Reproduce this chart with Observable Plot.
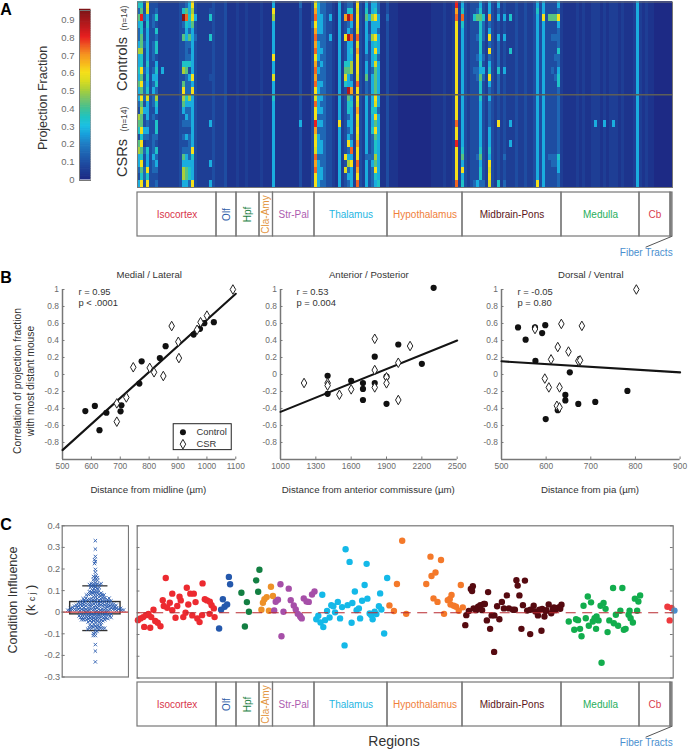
<!DOCTYPE html>
<html><head><meta charset="utf-8">
<script src="https://cdn.jsdelivr.net/npm/d3@7"></script>
<script src="https://cdn.jsdelivr.net/npm/@observablehq/plot@0.6"></script>
<style>
html,body{margin:0;padding:0;background:#fff;font-family:"Liberation Sans",Arial,sans-serif}
#page{position:relative;width:688px;height:750px;overflow:hidden}
.lab{position:absolute;white-space:nowrap;transform:translate(-50%,-50%);line-height:1.15;text-align:center}
</style></head><body><div id="page"></div>
<script>
/* ---------- shared ---------- */
const FONT = '"Liberation Sans",Arial,sans-serif';
const GREY = "#777";
const TICK = "#6b6b6b";

/* ---------- A: heat map ---------- */
const colorDomain = [0,.1,.2,.25,.3,.35,.4,.45,.5,.55,.6,.65,.7,.75,.8,.85,.955];
const colorRange = ["#1d2a85","#1e51a5","#1f7fc5","#18a0dc","#1cc0e2","#20c4c0","#45c090","#78c468","#a8cf3a","#d8dc20","#f5e01a","#f8b81c","#f59520","#ef5a22","#e8201f","#c41a1e","#7a1518"];
const levels = [0,.025,.05,.09,.15,.27,.34,.42,.5,.56,.6,.68,.74,.8,.875,.94];
const nRows = 28;
const baseColumns = "6832343222"+"2222333222"+"2222332222"+"1112112111"+"1211131111"+"1111311112"+"1243321223"+"2223322223"+"1112111000"+"0000000011"+"1121120203"+"2323332332"+"3232323223"+"2232323233"+"3211112121"+"1212121212"+"1211121212"+"11000000";
const hotColumns = {
  0:"64754458556575"+"54387637855435",
  1:"67d6677866a7a7"+"a7877a6a76a76a",
  2:"33423343334344"+"43533542433443",
  3:"a9565555565656"+"95554543655a6a",
  5:"33443344434545"+"44343344454433",
  6:"34636466356564"+"86536643645434",
  8:"22222222225222"+"22222222222222",
  15:"36f4373336837a"+"87534343475885",
  16:"47c65544467444"+"65454353455775",
  17:"55654743463544"+"85444344445664",
  18:"a8975555555a5a"+"55555555a6555a",
  19:"33533433333333"+"33333333333333",
  24:"23622622222322"+"22225222225225",
  29:"33333333333333"+"33333333333333",
  45:"5a855555a55955"+"65555555555555",
  54:"43333333333333"+"33335333333333",
  58:"33343333333333"+"33333333333333",
  59:"9bcabcbcabcbca"+"9caadb9a9cbcaa",
  60:"55555455545455"+"55545455545555",
  61:"44555445454454"+"54545445544554",
  64:"33533533333333"+"33333333333333",
  67:"55555555555555"+"5555a555555555",
  69:"33b33a33367963"+"333333333a3933",
  70:"46e45e5556755e"+"7664545a458454",
  71:"46c54c5658845b"+"56555545c5a555",
  73:"a9aa9c9baaa9ca"+"a9ba9a9baacbac",
  76:"56755555455744"+"55555555545555",
  77:"33533433333333"+"33333333343333",
  78:"55855855554555"+"55655644445444",
  79:"56a55a6a697777"+"a96a7a76687a65",
  80:"44554555455555"+"55455555555556",
  83:"33433333333333"+"33333333333333",
  106:"dbcaaaaaaaaaaa"+"aaaacaadaaaaac",
  108:"56c65555555555"+"55555555675a56",
  112:"33633333334333"+"33333333333334",
  113:"34733433434433"+"33333333343335",
  114:"56766666565766"+"65555555675664",
  115:"33644433435433"+"33333333333334",
  117:"55b45a4a456a54"+"5444455565a9a9",
  120:"54533544446444"+"3333a333333336",
  122:"33533533335333"+"33333333343334",
  124:"22622226222222"+"22225225222222",
  133:"56555555555555"+"5555555555555a",
  135:"55a55555555555"+"55555555555555",
  137:"33733333333333"+"33333333343333",
  138:"33733433334333"+"33333333344333",
  139:"33733433433433"+"33333333344333",
  140:"54a54446445664"+"44444444465544",
  152:"22222222222222"+"22225222222222",
  155:"22222222222222"+"22225222222222",
  158:"22222222222222"+"22225222222222",
  166:"55555555555555"+"55555555555555",
};
const heatCells = [];
for (let c = 0; c < baseColumns.length; c++) {
  const hot = hotColumns[c];
  for (let r = 0; r < nRows; r++) {
    const ch = hot ? (hot[r] || baseColumns[c]) : baseColumns[c];
    heatCells.push({c, r, v: levels[parseInt(ch,16)]});
  }
}
const colorScale = {type:"linear", domain:colorDomain, range:colorRange, clamp:true};
const barLevels = d3.range(0,96).map(d=>d/100);
const barTicks = [0,.1,.2,.3,.4,.5,.6,.7,.8,.9];

/* ---------- region strip ---------- */
const regionNames  = ["Isocortex","Olf","Hpf","Cla-Amy","Str-Pal","Thalamus","Hypothalamus","Midbrain-Pons","Medulla","Cb",""];
const regionEdges  = [0,31.6,39.6,48.8,54.2,70.8,100,130,169.6,200.8,213.2,214];
const regionColors = ["#d8354a","#2f5da8","#1d7f45","#e3963f","#ad5cb0","#1fb6e2","#f0803a","#5c1518","#1fae5c","#d9404f","#888"];
const regionRotated= [false,true,true,true,false,false,false,false,false,false,false];

/* ---------- B: correlation scatter ---------- */
const medialControlX = [579,612,628,652,701,704,766,774,837,857,954,976,991,1024];
const medialControlY = [-.43,-.37,-.655,-.45,-.433,-.363,-.107,.155,.193,.333,.47,.537,.604,.615];
const medialCsrX = [688,688,721,745,802,817,849,878,901,903,966,978,1000,1090];
const medialCsrY = [-.34,-.555,-.27,.085,.078,.026,-.018,.57,.385,.193,.526,.615,.693,1];
const anteriorControlX = [1400,1400,1600,1700,1700,1700,1800,1800,1900,1900,2000,2200,2300];
const anteriorControlY = [-.015,-.227,-.075,-.1,-.17,-.3,.21,-.1,-.026,-.345,.353,.126,1.02];
const anteriorCsrX = [1200,1400,1400,1500,1600,1800,1800,1800,1900,1900,2000,2000,2100];
const anteriorCsrY = [-.1,-.1,-.13,-.238,-.175,.42,.052,-.152,-.033,-.104,.138,-.3,.335];
const dorsalControlX = [537,554,575,591,598,576,653,643,643,626,599,672,710,782];
const dorsalControlY = [.554,.41,.554,.487,.58,.16,.026,-.24,-.305,-.42,-.524,-.346,-.323,-.193];
const dorsalCsrX = [802,634,680,575,626,650,611,672,676,597,606,630,624,630];
const dorsalCsrY = [1,.595,.572,.535,.323,.27,.178,.16,.167,-.048,-.152,-.152,-.368,-.387];
const fitLines = {medial:[[500,-.89],[1100,.95]], anterior:[[1000,-.44],[2500,.4]], dorsal:[[500,.155],[900,.025]]};
const corrTicks = [1,.8,.6,.4,.2,0,-.2,-.4,-.6,-.8];
const legendLabels = ["Control","CSR"];

/* ---------- C: condition influence ---------- */
const isoX=[.3,1.3,2.4,3.5,4.5,5.6,2.8,5.2,6.5,7.2,8.2,9.3,10.2,11.4,10.6,13,12,14,14,15.3,16,16.9,17.4,18.4,19.3,19.8,20.4,21.2,22.6,23.3,22,24,24.9,25.9,26.1,27,27.9,29,29.7,28.9,30.6,30.9];
const isoY=[-.034,-.026,-.02,-.011,-.005,-.02,-.065,-.069,.014,-.038,-.046,-.062,.058,.16,.031,.046,.023,.088,.012,-.023,.031,.074,.057,-.02,0,.115,.038,.088,.088,.049,-.012,-.026,-.043,-.011,.135,.062,.057,.051,.035,-.005,.02,-.02];
const olfX=[32.7,33.5,34.2,34.9,35.9,36.6,37.1];
const olfY=[-.072,.014,.062,.028,.038,.165,.131];
const hpfX=[41.6,43,43.8,44.6,47.5,48.3,48.8];
const hpfY=[.092,-.063,.049,.005,.149,.097,.198];
const amyX=[49.6,50.2,50.8,51.7,52.6,53.4,54.2];
const amyY=[.014,.046,.062,.072,.009,.12,.077];
const strX=[54.7,55.3,56.2,57.2,58.4,57.6,60.5,61.3,62.5,63.3,64.1,65,65.2,65.7,66.5,67.6,68.5,69.8,70.8];
const strY=[.011,.051,.06,.131,.005,-.108,.111,.058,.034,.015,-.005,-.014,-.02,-.026,.066,.052,.05,.084,.098];
const thaX=[73.9,71.5,72.3,73.2,74.3,75,75.8,76.8,77.5,78.3,79,80.1,81,81.8,82.8,83.2,84,84.8,85.6,85.9,86.9,87.6,88.5,89,89.8,90.8,91.6,91.9,92.8,93.4,94,94.8,95.5,96.5,97,97.5,98.6,99.8];
const thaY=[.083,-.03,-.014,-.045,-.066,-.034,.008,-.022,.035,.03,.002,.05,-.026,.026,-.15,.292,.035,.234,-.046,.045,.098,.012,.02,-.026,.055,.128,.225,.065,-.003,-.01,-.03,.005,-.006,.03,.089,.015,-.095,.16];
const hypX=[100.7,102.5,103.7,105.8,107.4,115.4,117.1,117.5,118.3,119.1,119.9,121.3,122.5,124,124.8,125.5,125.1,126.4,127.3,128.4,129.2,130];
const hypY=[.034,.008,.132,.331,-.005,.132,.258,.169,.066,.185,.05,.243,-.005,.058,.063,.082,.038,.032,.028,.009,.128,.025];
const midX=[131,131.4,132.4,133.2,134,134.3,135.3,136.1,137,137.7,138.4,138.8,139.6,140.1,140.9,141.5,142.6,142.5,143.7,144.6,145.6,146.4,147.6,148.4,150,150.8,151.4,151.9,152.6,153.4,154,154.8,155.7,156.9,157,158.3,159,160,161.4,161.7,162.6,163.4,164.3,165.3,166,166.9,167.8,168.6,169.4,160.6,163,166.4,168.9,133.7];
const midY=[-.057,-.011,.008,.109,.122,.02,.012,.028,.035,.012,.04,.04,-.035,.095,-.074,-.012,-.012,-.18,.03,-.03,.05,.02,.08,.02,.014,.014,.15,.125,.08,-.074,.035,.148,.01,-.098,.014,.032,.006,-.012,-.083,.018,-.017,.012,.038,-.002,.018,.012,.022,.026,.037,.014,.008,.024,.018,.1];
const medX=[172.3,174.5,175.2,176,176.8,177.4,178.2,179.1,179.9,180.3,181.2,181.9,182.6,183.2,183.4,184.2,185,185.4,186.2,187,187.8,188.5,190,190.3,191.1,192,192.9,193.7,194.3,195,196.2,196.6,197,197.9,198.7,199.6,200.1,200.8];
const medY=[-.04,-.078,-.03,-.034,-.074,-.108,.032,-.025,.075,-.06,.048,-.04,-.025,-.074,-.017,-.035,.032,-.23,.045,.018,-.089,-.035,.114,-.048,-.009,-.06,.009,.114,-.078,-.074,-.009,.009,-.025,-.045,.065,.009,.052,.08];
const cbX=[211.7,212.6,213.3];
const cbY=[.028,-.035,.022];
const fiberX=[214.5];
const fiberY=[.01];
const groupNames=["Isocortex","Olf","Hpf","Cla-Amy","Str-Pal","Thalamus","Hypothalamus","Midbrain-Pons","Medulla","Cb","Fiber Tracts"];
const groupColors=["#ec2a30","#2458ac","#137f42","#ed9128","#a64fa8","#14b9e8","#f4792a","#560a10","#12ad4d","#ee3a3e","#4a8fcf"];
const groupXs=[isoX,olfX,hpfX,amyX,strX,thaX,hypX,midX,medX,cbX,fiberX];
const groupYs=[isoY,olfY,hpfY,amyY,strY,thaY,hypY,midY,medY,cbY,fiberY];
const influenceTicks=[.4,.3,.2,.1,0,-.1,-.2,-.3];
const influenceBox={q1:-.01,q3:.047,median:.003,low:-.085,high:.122};

/* ---------- helpers ---------- */
const page=document.getElementById("page");
function place(node,left,top){node.style.position="absolute";node.style.left=left+"px";node.style.top=top+"px";node.style.maxWidth="none";page.appendChild(node);return node;}
function label(text,x,y,{size=10,color="#333",rot=0,weight="normal"}={}){
  const d=document.createElement("div");d.className="lab";d.innerHTML=text;
  d.style.left=x+"px";d.style.top=y+"px";d.style.fontSize=size+"px";d.style.color=color;d.style.fontWeight=weight;
  if(rot)d.style.transform=`translate(-50%,-50%) rotate(${rot}deg)`;
  page.appendChild(d);return d;
}
function pts(xs,ys){return xs.map((x,i)=>({x,y:ys[i]}));}
/* a fixed-size × glyph, so the swarm's packing radius can stay small */
const crossSymbol={draw(ctx){const a=1.7;ctx.moveTo(-a,-a);ctx.lineTo(a,a);ctx.moveTo(a,-a);ctx.lineTo(-a,a);}};

/* ---------- colour bar ---------- */
place(Plot.plot({
  width:91,height:190,marginLeft:79,marginRight:0.5,marginTop:10,marginBottom:10,
  style:{fontFamily:FONT,fontSize:"9.5px",color:TICK,background:"none"},
  x:{domain:[0,1],axis:null},y:{domain:[-.005,.955],range:[180,10]},color:colorScale,
  marks:[
    Plot.rect(barLevels,{x1:0,x2:1,y1:d=>d-.002,y2:d=>d+.012,fill:d=>d}),
    Plot.frame({stroke:GREY,strokeWidth:1}),
    Plot.axisY(barTicks,{anchor:"left",tickSize:0,tickPadding:5,tickFormat:d=>String(d),label:null})
  ]
}),0,0);
label("Projection Fraction",43,98,{size:12.5,color:"#333",rot:-90});

/* ---------- heat map ---------- */
const heatPlot=place(Plot.plot({
  width:688,height:188,marginLeft:137,marginRight:16,marginTop:1.5,marginBottom:1,
  style:{background:"none"},
  x:{domain:[0,baseColumns.length],axis:null},y:{domain:[nRows,0],axis:null},color:colorScale,
  marks:[
    Plot.rect(heatCells,{x1:"c",x2:d=>d.c+1,y1:"r",y2:d=>d.r+1,fill:"v",inset:-.3,shapeRendering:"crispEdges"}),
    Plot.ruleY([14],{stroke:"#5e5e58",strokeWidth:1.5}),
    Plot.frame({stroke:GREY,strokeWidth:1})
  ]
}),0,0);
heatPlot.style.filter="blur(0.7px)";
label("Controls",122,64,{size:14.5,color:"#333",rot:-90});
label("(n=14)",125,18,{size:8.5,color:"#444",rot:-90});
label("CSRs",122,158,{size:14.5,color:"#333",rot:-90});
label("(n=14)",125,119,{size:8.5,color:"#444",rot:-90});

/* ---------- region strips ---------- */
function regionStrip(left,top){
  const cells=regionNames.map((name,i)=>({name,x1:regionEdges[i],x2:regionEdges[i+1],color:regionColors[i],rot:regionRotated[i]}));
  return place(Plot.plot({
    width:688,height:68,marginLeft:137,marginRight:16,marginTop:1,marginBottom:23,
    style:{fontFamily:FONT,fontSize:"10px",background:"none"},
    x:{domain:[0,214],axis:null},y:{domain:[0,1],axis:null},
    marks:[
      Plot.rect(cells.slice(-1),{x1:"x1",x2:"x2",y1:0,y2:1,fill:"#999"}),
      Plot.rect(cells,{x1:"x1",x2:"x2",y1:0,y2:1,stroke:GREY,strokeWidth:1.2}),
      Plot.text(cells.filter(d=>!d.rot),{x:d=>(d.x1+d.x2)/2,y:.5,text:"name",fill:"color",fontSize:10}),
      Plot.text(cells.filter(d=>d.rot),{x:d=>(d.x1+d.x2)/2,y:.5,text:"name",fill:"color",rotate:-90,fontSize:10}),
      Plot.line([[213.6,0],[203.4,-.24]],{stroke:"#555",strokeWidth:1}),
      Plot.text(["Fiber Tracts"],{x:()=>203.5,y:()=>-.36,text:d=>d,fill:"#4a8fcf",fontSize:10})
    ]
  }),left,top);
}
regionStrip(0,191);
regionStrip(-.5,681);

/* ---------- B panels ---------- */
function corrPanel({left,right,xDomain,xTicks,controls,csrs,fit,note,title,xlabel,legend}){
  const w=right-left,mL=34,mR=16;
  const marks=[
    Plot.ruleX([xDomain[0]],{stroke:GREY,strokeWidth:1.5}),
    Plot.ruleY([-1],{stroke:GREY,strokeWidth:1.5}),
    Plot.axisY(corrTicks,{anchor:"left",tickSize:-2.5,tickPadding:6,tickFormat:d=>String(d),label:null,stroke:GREY}),
    Plot.axisX(xTicks,{anchor:"bottom",tickSize:-2.5,tickPadding:6,tickFormat:d=>String(d),label:null,stroke:GREY}),
    Plot.line(fit,{stroke:"#141414",strokeWidth:2.1}),
    Plot.dot(controls,{x:"x",y:"y",r:3.1,fill:"#111"}),
    Plot.dot(csrs,{x:"x",y:"y",symbol:"diamond",r:2.9,fill:"#fff",stroke:"#222",strokeWidth:1}),
    Plot.text([title],{frameAnchor:"top",dy:-18,fill:"#333",fontSize:9.6}),
    Plot.text([note],{frameAnchor:"top-left",dx:16,dy:-2,textAnchor:"start",fill:"#333",fontSize:9.4,lineHeight:1.17})
  ];
  if(legend){
    marks.push(
      Plot.rect([0],{x1:()=>885,x2:()=>1086,y1:()=>-.585,y2:()=>-.89,fill:"#fff",stroke:"#222",strokeWidth:1}),
      Plot.dot([legendLabels[0]],{x:()=>917,y:()=>-.68,r:3,fill:"#111"}),
      Plot.dot([legendLabels[1]],{x:()=>917,y:()=>-.82,symbol:"diamond",r:2.9,fill:"#fff",stroke:"#222",strokeWidth:1}),
      Plot.text([legendLabels[0]],{x:()=>964,y:()=>-.68,text:d=>d,textAnchor:"start",fill:"#333",fontSize:9.4}),
      Plot.text([legendLabels[1]],{x:()=>964,y:()=>-.82,text:d=>d,textAnchor:"start",fill:"#333",fontSize:9.4})
    );
  }
  place(Plot.plot({
    width:w+mL+mR,height:205,marginLeft:mL,marginRight:mR,marginTop:19,marginBottom:16,
    style:{fontFamily:FONT,fontSize:"8.4px",color:TICK,background:"none",overflow:"visible"},
    x:{domain:xDomain,axis:null},y:{domain:[-1,1],axis:null},
    marks
  }),left-mL,270);
  label(xlabel,(left+right)/2,490,{size:9.7,color:"#333"});
}
corrPanel({left:61.7,right:235,xDomain:[500,1100],xTicks:[500,600,700,800,900,1000,1100],
  controls:pts(medialControlX,medialControlY),csrs:pts(medialCsrX,medialCsrY),fit:fitLines.medial,
  note:"r = 0.95\np < .0001",title:"Medial / Lateral",xlabel:"Distance from midline (µm)",legend:true});
corrPanel({left:280,right:456.7,xDomain:[1000,2500],xTicks:[1000,1300,1600,1900,2200,2500],
  controls:pts(anteriorControlX,anteriorControlY),csrs:pts(anteriorCsrX,anteriorCsrY),fit:fitLines.anterior,
  note:"r = 0.53\np = 0.004",title:"Anterior / Posterior",xlabel:"Distance from anterior commissure (µm)"});
corrPanel({left:500.7,right:679.3,xDomain:[500,900],xTicks:[500,600,700,800,900],
  controls:pts(dorsalControlX,dorsalControlY),csrs:pts(dorsalCsrX,dorsalCsrY),fit:fitLines.dorsal,
  note:"r = -0.05\np = 0.80",title:"Dorsal / Ventral",xlabel:"Distance from pia (µm)"});
label("Correlation of projection fraction",18,381,{size:10.3,color:"#333",rot:-90});
label("with most distant mouse",31,381,{size:10.3,color:"#333",rot:-90});

/* ---------- C panels ---------- */
const influenceValues=groupYs.flat();
place(Plot.plot({
  width:128.5,height:168,marginLeft:61.7,marginRight:0.5,marginTop:8.3,marginBottom:8.5,
  style:{fontFamily:FONT,fontSize:"9.2px",color:TICK,background:"none"},
  x:{domain:[0,1],axis:null},y:{domain:[-.3,.4],axis:null},
  marks:[
    Plot.rect([influenceBox],{x1:()=>.12,x2:()=>.88,y1:"q1",y2:"q3",fill:"#fff",stroke:"#333",strokeWidth:1.4}),
    Plot.ruleY([influenceBox.high,influenceBox.low],{x1:.31,x2:.69,stroke:"#333",strokeWidth:1.3}),
    Plot.dot(influenceValues,Plot.dodgeX("middle",{y:d=>d,r:.55,padding:0,symbol:crossSymbol,fill:"none",stroke:"#2c5db0",strokeWidth:.9})),
    Plot.ruleY([0],{stroke:"#c8383a",strokeWidth:1.2}),
    Plot.frame({stroke:GREY,strokeWidth:1.2}),
    Plot.axisY(influenceTicks,{anchor:"left",tickSize:-3,tickPadding:5,tickFormat:d=>String(d),label:null,stroke:GREY})
  ]
}),0,517);
const influencePoints=groupNames.flatMap((g,i)=>groupXs[i].map((x,j)=>({g,x,y:groupYs[i][j]})));
place(Plot.plot({
  width:688,height:156,marginLeft:136.7,marginRight:15.3,marginTop:1.3,marginBottom:2.5,
  style:{background:"none"},
  x:{domain:[0,214],axis:null},y:{domain:[-.3,.4],axis:null},
  color:{domain:groupNames,range:groupColors},
  marks:[
    Plot.ruleY(influenceTicks,{x1:0,x2:1.1,stroke:GREY}),
    Plot.ruleY(influenceTicks,{x1:212.9,x2:214,stroke:GREY}),
    Plot.dot(influencePoints,{x:"x",y:"y",r:3.2,fill:"g"}),
    Plot.ruleY([0],{stroke:"#b92a30",strokeWidth:1.1,strokeDasharray:"10,6.5"}),
    Plot.frame({stroke:GREY,strokeWidth:1.2})
  ]
}),0,524);
label("Condition Influence",13,600,{size:12.5,color:"#333",rot:-90});
label('(k&nbsp;<span style="font-size:8.5px">c j</span>&nbsp;)',31,600,{size:13,color:"#333",rot:-90});
label("Regions",394,741,{size:14,color:"#333"});

/* ---------- panel letters ---------- */
label("A",6,10,{size:16,color:"#000",weight:"bold"});
label("B",6,278,{size:16,color:"#000",weight:"bold"});
label("C",6,525,{size:16,color:"#000",weight:"bold"});
</script></body></html>
